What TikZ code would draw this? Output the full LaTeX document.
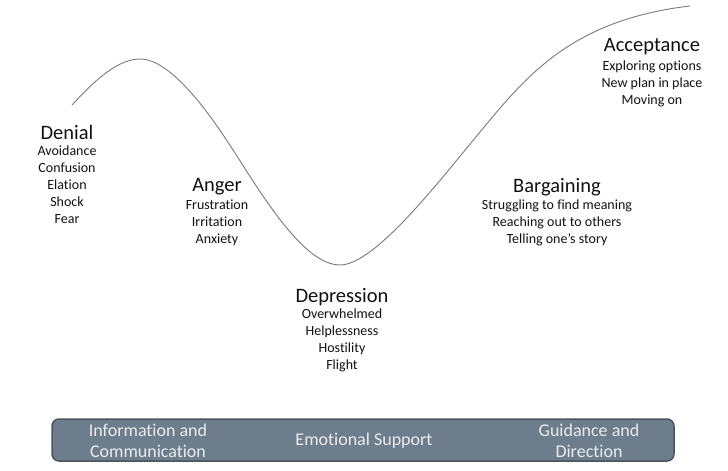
\documentclass[tikz,border=0pt]{standalone}
\usepackage{fontspec}
\setmainfont[Ligatures=NoCommon]{Carlito}
\definecolor{barfill}{HTML}{6E7D8C}
\definecolor{barline}{HTML}{4A5564}
\definecolor{bartext}{HTML}{E8ECF0}
\definecolor{curve}{HTML}{7A7A7A}
\definecolor{txt}{HTML}{111111}
\begin{document}
\begin{tikzpicture}[x=1pt,y=-1pt,
  stagetitle/.style={inner sep=0pt,text=txt,font=\fontsize{20.5}{24}\selectfont},
  stageitems/.style={inner sep=0pt,align=center,text=txt,font=\fontsize{14}{17}\selectfont},
  bartxt/.style={inner sep=0pt,align=center,text=bartext,font=\fontsize{18}{21}\selectfont}]
\useasboundingbox (0,0) rectangle (728,471);
\draw[curve,line width=0.9pt] (72,105) .. controls (95,80) and (118,59) .. (140,59)
  .. controls (172,59) and (212,117) .. (235,153)
  .. controls (265,200) and (305,265) .. (340,265)
  .. controls (375,265) and (440,180) .. (480,132)
  .. controls (525,78) and (570,20) .. (690,6);
% Denial
\node[stagetitle] (denT) at (67,132) {Denial};
\node[stageitems] (denL) at (67,185) {Avoidance\\Confusion\\Elation\\Shock\\Fear};
% Anger
\node[stagetitle] (angT) at (217,187) {Anger};
\node[stageitems] (angL) at (217,223) {Frustration\\Irritation\\Anxiety};
% Depression
\node[stagetitle] (depT) at (342,297) {Depression};
\node[stageitems] (depL) at (342,340.5) {Overwhelmed\\Helplessness\\Hostility\\Flight};
% Bargaining
\node[stagetitle] (barT) at (557,187) {Bargaining};
\node[stageitems] (barL) at (557,223) {Struggling to find meaning\\Reaching out to others\\Telling one’s story};
% Acceptance
\node[stagetitle] (accT) at (652,47) {Acceptance};
\node[stageitems] (accL) at (652,83.5) {Exploring options\\New plan in place\\Moving on};
% bottom bar
\node[draw=barline,fill=barfill,line width=1.5pt,rounded corners=7pt,
  minimum width=622pt,minimum height=42pt,inner sep=0pt] (bar) at (363,440) {};
\node[bartxt] (info) at (148,441) {Information and\\Communication};
\node[bartxt] (emo) at (364,441) {Emotional Support};
\node[bartxt] (guid) at (589,441) {Guidance and\\Direction};
\end{tikzpicture}
\end{document}
